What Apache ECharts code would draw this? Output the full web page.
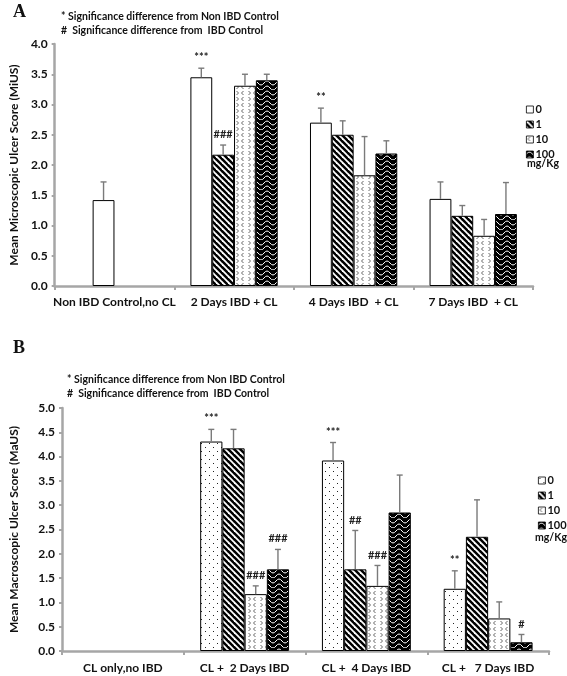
<!DOCTYPE html>
<html><head><meta charset="utf-8">
<script src="https://cdn.jsdelivr.net/npm/echarts@6/dist/echarts.min.js"></script>
<style>
body{margin:0;background:#fff;width:567px;height:676px;overflow:hidden}
#a,#b{position:absolute;left:0;width:567px;height:338px}
#a{top:0}#b{top:338px}
</style></head><body><div id="a"></div><div id="b"></div>
<script>
// ---------- data ----------
const seriesNames = ['0', '1', '10', '100'];
const catsA = ['Non IBD Control,no CL', '2 Days IBD + CL', '4 Days IBD  + CL', '7 Days IBD  + CL'];
const catsB = ['CL only,no IBD', 'CL +  2 Days IBD', 'CL +  4 Days IBD', 'CL +   7 Days IBD'];
const yTicksA = [0, 4, 0.5];
const yTicksB = [0, 5, 0.5];

// Panel A means / upper errors
const a0 = [null, 3.45, 2.70, 1.44];
const a1 = [1.42, 2.17, 2.50, 1.16];
const a2 = [null, 3.31, 1.83, 0.83];
const a3 = [null, 3.40, 2.19, 1.19];
const a0Err = [null, 0.15, 0.24, 0.28];
const a1Err = [0.30, 0.16, 0.23, 0.17];
const a2Err = [null, 0.19, 0.64, 0.27];
const a3Err = [null, 0.10, 0.21, 0.52];
const a0Sig = ['', '***', '**', ''];
const a1Sig = ['', '###', '', ''];
const a2Sig = ['', '', '', ''];
const a3Sig = ['', '', '', ''];

// Panel B means / upper errors
const b0 = [null, 4.31, 3.92, 1.28];
const b1 = [null, 4.17, 1.68, 2.35];
const b2 = [null, 1.17, 1.34, 0.67];
const b3 = [null, 1.68, 2.85, 0.18];
const b0Err = [null, 0.25, 0.37, 0.37];
const b1Err = [null, 0.39, 0.80, 0.76];
const b2Err = [null, 0.17, 0.42, 0.34];
const b3Err = [null, 0.41, 0.77, 0.16];
const b0Sig = ['', '***', '***', '**'];
const b1Sig = ['', '', '##', ''];
const b2Sig = ['', '###', '###', ''];
const b3Sig = ['', '###', '', '#'];

// ---------- patterns ----------
function mk(w, h, draw) {
  const c = document.createElement('canvas'); c.width = w; c.height = h;
  const g = c.getContext('2d'); draw(g, w, h);
  return { image: c, repeat: 'repeat' };
}
const pWhite = '#ffffff';
const pDots = mk(8, 8, g => {
  g.fillStyle = '#fff'; g.fillRect(0, 0, 8, 8);
  g.fillStyle = '#222'; g.fillRect(1, 1, 1, 1); g.fillRect(5, 5, 1, 1);
});
const pStripes = mk(6, 6, g => {
  g.fillStyle = '#000'; g.fillRect(0, 0, 6, 6);
  g.strokeStyle = '#fff'; g.lineWidth = 1.8;
  for (let k = -6; k <= 6; k += 6) { g.beginPath(); g.moveTo(k - 1, -1); g.lineTo(k + 7, 7); g.stroke(); }
});
const pChevron = mk(12, 12, g => {
  g.fillStyle = '#fff'; g.fillRect(0, 0, 12, 12);
  g.strokeStyle = '#555'; g.lineWidth = 0.9;
  g.beginPath(); g.moveTo(3.5, 1); g.lineTo(1.5, 3); g.lineTo(3.5, 5); g.stroke();
  g.beginPath(); g.moveTo(8.5, 1); g.lineTo(10.5, 3); g.lineTo(8.5, 5); g.stroke();
  g.beginPath(); g.moveTo(3.5, 7); g.lineTo(1.5, 9); g.lineTo(3.5, 11); g.stroke();
  g.beginPath(); g.moveTo(8.5, 7); g.lineTo(10.5, 9); g.lineTo(8.5, 11); g.stroke();
});
const pWave = mk(12, 10, g => {
  g.fillStyle = '#000'; g.fillRect(0, 0, 12, 10);
  g.strokeStyle = '#fff'; g.lineWidth = 1;
  g.beginPath(); g.moveTo(0, 3); g.quadraticCurveTo(3, -1, 6, 3); g.quadraticCurveTo(9, 7, 12, 3); g.stroke();
  g.beginPath(); g.moveTo(0, 8); g.quadraticCurveTo(3, 4, 6, 8); g.quadraticCurveTo(9, 12, 12, 8); g.stroke();
});

const FONT = 'Lato';
const AXIS_GRAY = '#a6a6a6';

function build(el, cfg) {
  const chart = echarts.init(document.getElementById(el), null, { renderer: 'canvas' });
  const entries = [];
  cfg.means.forEach((arr, s) => arr.forEach((m, c) => {
    if (m != null) entries.push({ s, c, m, e: cfg.errs[s][c], t: cfg.sigs[s][c] });
  }));
  const barSeries = cfg.means.map((arr, s) => ({
    name: seriesNames[s], type: 'bar',
    barGap: '0%', barCategoryGap: '27%',
    data: arr.map((v, c) => (cfg.whiteAt && cfg.whiteAt[0] === s && cfg.whiteAt[1] === c)
      ? { value: v, itemStyle: { color: '#fff' } } : v),
    itemStyle: { color: cfg.fills[s], borderColor: '#000', borderWidth: 1 },
    emphasis: { disabled: true },
    z: 2
  }));
  const errSeries = {
    type: 'custom', z: 5, silent: true,
    data: entries.map(e => [e.c, e.m + e.e]),
    renderItem: function (params, api) {
      const e = entries[params.dataIndex];
      const band = api.size([1, 0])[0];
      const bw = band * 0.73 / 4;
      const cx = api.coord([e.c, 0])[0] + (e.s - 1.5) * bw;
      const yb = api.coord([e.c, e.m])[1];
      const yt = api.coord([e.c, e.m + e.e])[1];
      const st = { stroke: '#7a7a7a', lineWidth: 1.4 };
      const ch = [
        { type: 'line', shape: { x1: cx, y1: yb, x2: cx, y2: yt }, style: st },
        { type: 'line', shape: { x1: cx - 3, y1: yt, x2: cx + 3, y2: yt }, style: st }
      ];
      if (e.t) ch.push({ type: 'text', x: cx, y: yt - 5,
        style: { text: e.t, fill: '#222', font: 'bold 11px ' + FONT, align: 'center', verticalAlign: 'bottom' } });
      return { type: 'group', children: ch };
    }
  };
  chart.setOption({
    animation: false,
    backgroundColor: '#fff',
    grid: cfg.grid,
    legend: Object.assign({
      data: seriesNames, orient: 'vertical', icon: 'rect', selectedMode: false,
      itemWidth: 7, itemHeight: 7, itemGap: 4,
      itemStyle: { borderWidth: 0.8 },
      textStyle: { fontFamily: FONT, fontWeight: 'bold', fontSize: 11, color: '#111', padding: [0, 0, 0, -3] }
    }, cfg.legendPos),
    xAxis: {
      type: 'category', data: cfg.cats,
      axisLine: { lineStyle: { color: AXIS_GRAY, width: 2.5 } },
      axisTick: { show: true, interval: 0, alignWithLabel: false, length: 4, lineStyle: { color: AXIS_GRAY, width: 2 } },
      axisLabel: { interval: 0, margin: cfg.xMargin, fontFamily: FONT, fontWeight: 'bold', fontSize: 12, color: '#111' }
    },
    yAxis: {
      type: 'value', min: cfg.yTicks[0], max: cfg.yTicks[1], interval: cfg.yTicks[2],
      name: cfg.yName, nameLocation: 'middle', nameGap: cfg.nameGap,
      nameTextStyle: { fontFamily: FONT, fontWeight: 'bold', fontSize: 12, color: '#111' },
      axisLine: { show: true, lineStyle: { color: AXIS_GRAY, width: 2.5 } },
      axisTick: { show: true, length: 3, lineStyle: { color: AXIS_GRAY, width: 2 } },
      splitLine: { show: false },
      axisLabel: { margin: 7, fontFamily: FONT, fontWeight: 'bold', fontSize: 12, color: '#111',
        formatter: v => v.toFixed(1) }
    },
    graphic: cfg.graphic,
    series: barSeries.concat([errSeries])
  });
}

function noteText(x, y, t) {
  return { type: 'text', left: x, top: y, style: { text: t, font: 'bold 10.5px ' + FONT, fill: '#111' } };
}

build('a', {
  cats: catsA, means: [a0, a1, a2, a3], errs: [a0Err, a1Err, a2Err, a3Err], sigs: [a0Sig, a1Sig, a2Sig, a3Sig],
  fills: [pWhite, pStripes, pChevron, pWave], whiteAt: [1, 0],
  grid: { left: 53, right: 34, top: 44, height: 242 },
  yTicks: yTicksA, yName: 'Mean Microscopic Ulcer Score (MiUS)', nameGap: 34, xMargin: 10,
  legendPos: { left: 521, top: 99 },
  graphic: [
    { type: 'text', left: 13, top: 3, style: { text: 'A', font: 'bold 18px "Liberation Serif"', fill: '#111' } },
    noteText(61, 11, '* Significance difference from Non IBD Control'),
    noteText(61, 25, '#  Significance difference from  IBD Control'),
    noteText(527, 158, 'mg/Kg')
  ]
});

build('b', {
  cats: catsB, means: [b0, b1, b2, b3], errs: [b0Err, b1Err, b2Err, b3Err], sigs: [b0Sig, b1Sig, b2Sig, b3Sig],
  fills: [pDots, pStripes, pChevron, pWave],
  grid: { left: 61, right: 18, top: 70, height: 243 },
  yTicks: yTicksB, yName: 'Mean Macroscopic Ulcer Score (MaUS)', nameGap: 42, xMargin: 11,
  legendPos: { left: 533, top: 132 },
  graphic: [
    { type: 'text', left: 13, top: 1, style: { text: 'B', font: 'bold 18px "Liberation Serif"', fill: '#111' } },
    noteText(67, 36, '* Significance difference from Non IBD Control'),
    noteText(67, 50, '#  Significance difference from  IBD Control'),
    noteText(535, 194, 'mg/Kg')
  ]
});
</script></body></html>
